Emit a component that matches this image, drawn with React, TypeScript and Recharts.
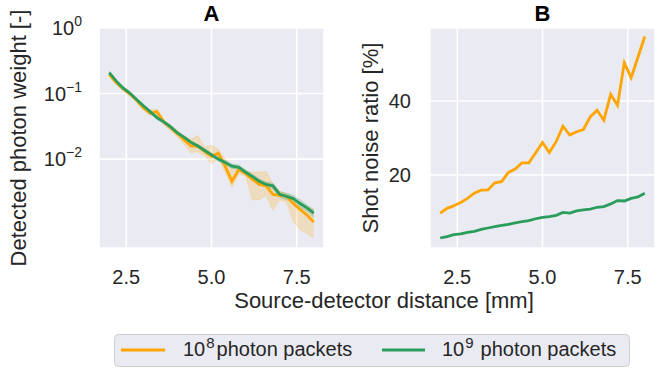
import React from 'react';
import { ComposedChart, Line, Area, XAxis, YAxis, CartesianGrid } from 'recharts';

const distances = [2.0, 2.2, 2.4, 2.6, 2.8, 3.0, 3.2, 3.4, 3.6, 3.8, 4.0, 4.2, 4.4, 4.6, 4.8, 5.0, 5.2, 5.4, 5.6, 5.8, 6.0, 6.2, 6.4, 6.6, 6.8, 7.0, 7.2, 7.4, 7.6, 7.8, 8.0];

// Panel A: detected photon weight
const weight1e8 = [0.196, 0.147, 0.119, 0.099, 0.079, 0.061, 0.050, 0.053, 0.037, 0.030, 0.0245, 0.0195, 0.0158, 0.0158, 0.013, 0.011, 0.0123, 0.0078, 0.0046, 0.0069, 0.006, 0.0049, 0.0041, 0.0039, 0.0029, 0.0028, 0.0027, 0.0021, 0.0017, 0.0014, 0.0011];
const weight1e8Lo = [0.186, 0.141, 0.112, 0.093, 0.074, 0.056, 0.047, 0.048, 0.033, 0.027, 0.0219, 0.0166, 0.0126, 0.0129, 0.0112, 0.0085, 0.0105, 0.0063, 0.0037, 0.006, 0.0055, 0.0024, 0.0024, 0.0028, 0.00166, 0.0024, 0.0022, 0.00112, 0.00083, 0.00074, 0.00063];
const weight1e8Hi = [0.204, 0.155, 0.126, 0.107, 0.085, 0.068, 0.056, 0.058, 0.040, 0.033, 0.0275, 0.0224, 0.020, 0.0229, 0.0151, 0.0162, 0.0141, 0.0100, 0.0078, 0.0076, 0.0066, 0.0063, 0.0063, 0.0065, 0.0042, 0.0032, 0.0030, 0.0026, 0.0022, 0.0019, 0.0017];
const weight1e9 = [0.209, 0.156, 0.122, 0.102, 0.081, 0.065, 0.053, 0.043, 0.037, 0.031, 0.025, 0.0214, 0.018, 0.0158, 0.0135, 0.0116, 0.0100, 0.0089, 0.0078, 0.0075, 0.0063, 0.0054, 0.0046, 0.0041, 0.0039, 0.0029, 0.0027, 0.0025, 0.0021, 0.0018, 0.0015];
const weight1e9Lo = [0.197, 0.147, 0.115, 0.096, 0.076, 0.061, 0.05, 0.04, 0.035, 0.029, 0.0235, 0.0201, 0.0169, 0.0148, 0.0126, 0.0108, 0.0093, 0.0082, 0.0072, 0.0069, 0.0058, 0.0049, 0.0042, 0.0037, 0.0035, 0.0026, 0.0024, 0.0022, 0.0018, 0.0016, 0.0013];
const weight1e9Hi = [0.221, 0.165, 0.129, 0.108, 0.086, 0.069, 0.056, 0.046, 0.039, 0.033, 0.0265, 0.0227, 0.0191, 0.0168, 0.0144, 0.0124, 0.0107, 0.0096, 0.0084, 0.0081, 0.0068, 0.0059, 0.005, 0.0045, 0.0043, 0.0032, 0.003, 0.0028, 0.0024, 0.002, 0.0017];

// Panel B: shot noise ratio [%]
const noise1e8 = [9.7, 11.0, 11.7, 12.6, 13.7, 15.1, 15.9, 16.0, 17.9, 18.2, 20.7, 21.6, 23.3, 23.3, 26.0, 28.8, 26.1, 29.0, 33.2, 30.8, 31.7, 32.3, 35.7, 37.5, 34.8, 41.8, 38.8, 50.3, 46.3, 51.8, 57.4];
const noise1e9 = [3.0, 3.4, 3.9, 4.1, 4.5, 4.8, 5.3, 5.7, 6.1, 6.4, 6.7, 7.1, 7.4, 7.7, 8.2, 8.6, 8.8, 9.1, 9.9, 9.7, 10.3, 10.6, 10.8, 11.3, 11.5, 12.2, 13.1, 13.0, 13.7, 14.1, 15.1];

const xTicks = [2.5, 5.0, 7.5];
const yTicksA = [1, 0.1, 0.01];
const yTicksB = [20, 40];

const seriesNames = ['photon packets', 'photon packets'];
const seriesExp = ['8', '9'];

const ORANGE = '#FFA500';
const GREEN = '#2a9d5c';
const BG = '#EAEAF2';
const TXT = '#262626';
const FONT = '"Liberation Sans", Arial, sans-serif';

const dataA = distances.map((d, i) => ({
  d,
  o: weight1e8[i],
  oBand: [weight1e8Lo[i], weight1e8Hi[i]],
  g: weight1e9[i],
  gBand: [weight1e9Lo[i], weight1e9Hi[i]],
}));
const dataB = distances.map((d, i) => ({ d, o: noise1e8[i], g: noise1e9[i] }));

const LogTick = (props: any) => {
  const { x, y, payload } = props;
  const exp = Math.round(Math.log10(payload.value));
  const sup = exp < 0 ? `\u2212${-exp}` : `${exp}`;
  return (
    <text x={x} y={y} textAnchor="end" fill={TXT} fontSize={20} fontFamily={FONT}>
      <tspan dy="0.355em">10</tspan>
      <tspan dy={-9} fontSize={14}>{sup}</tspan>
    </text>
  );
};

const fmt = (v: number) => v.toFixed(1);

export default function App() {
  return (
    <div style={{ position: 'absolute', left: 0, top: 0, width: 668, height: 369, background: '#fff', fontFamily: FONT, overflow: 'hidden' }}>
      <div style={{ position: 'absolute', left: 0, top: 0 }}>
        <ComposedChart width={330} height={300} data={dataA} margin={{ top: 28, right: 6, bottom: 0, left: 0 }}>
          <CartesianGrid fill={BG} stroke="#fff" strokeWidth={1.6} />
          <XAxis dataKey="d" type="number" domain={[1.7, 8.3]} ticks={xTicks} tickFormatter={fmt} allowDataOverflow
            axisLine={false} tickLine={false} tickSize={0} tickMargin={22} height={52}
            tick={{ fontSize: 20, fill: TXT, fontFamily: FONT }} />
          <YAxis type="number" scale="log" domain={[0.00044, 1]} ticks={yTicksA} allowDataOverflow
            axisLine={false} tickLine={false} tickSize={0} tickMargin={17} width={99} tick={<LogTick />} />
          <Area dataKey="oBand" type="linear" fill={ORANGE} fillOpacity={0.2} stroke={ORANGE} strokeOpacity={0.2} strokeWidth={1} isAnimationActive={false} />
          <Area dataKey="gBand" type="linear" fill={GREEN} fillOpacity={0.2} stroke={GREEN} strokeOpacity={0.2} strokeWidth={1} isAnimationActive={false} />
          <Line dataKey="o" type="linear" stroke={ORANGE} strokeWidth={2.8} dot={false} isAnimationActive={false} />
          <Line dataKey="g" type="linear" stroke={GREEN} strokeWidth={2.8} dot={false} isAnimationActive={false} />
        </ComposedChart>
      </div>
      <div style={{ position: 'absolute', left: 330, top: 0 }}>
        <ComposedChart width={330} height={300} data={dataB} margin={{ top: 28, right: 5, bottom: 0, left: 0 }}>
          <CartesianGrid fill={BG} stroke="#fff" strokeWidth={1.6} />
          <XAxis dataKey="d" type="number" domain={[1.7, 8.3]} ticks={xTicks} tickFormatter={fmt} allowDataOverflow
            axisLine={false} tickLine={false} tickSize={0} tickMargin={22} height={52}
            tick={{ fontSize: 20, fill: TXT, fontFamily: FONT }} />
          <YAxis type="number" domain={[0.3, 59.7]} ticks={yTicksB} allowDataOverflow
            axisLine={false} tickLine={false} tickSize={0} tickMargin={19} width={100}
            tick={{ fontSize: 20, fill: TXT, fontFamily: FONT }} />
          <Line dataKey="o" type="linear" stroke={ORANGE} strokeWidth={2.8} dot={false} isAnimationActive={false} />
          <Line dataKey="g" type="linear" stroke={GREEN} strokeWidth={2.8} dot={false} isAnimationActive={false} />
        </ComposedChart>
      </div>
      <svg width={668} height={369} style={{ position: 'absolute', left: 0, top: 0, pointerEvents: 'none' }} fontFamily={FONT}>
        <text x={211.5} y={21} textAnchor="middle" fontSize={22} fontWeight="bold" fill="#000">A</text>
        <text x={542.5} y={21} textAnchor="middle" fontSize={22} fontWeight="bold" fill="#000">B</text>
        <text x={384} y={308} textAnchor="middle" fontSize={22} fill={TXT}>Source-detector distance [mm]</text>
        <text transform="translate(26,138) rotate(-90)" textAnchor="middle" fontSize={22} fill={TXT}>Detected photon weight [-]</text>
        <text transform="translate(378,138) rotate(-90)" textAnchor="middle" fontSize={22} fill={TXT}>Shot noise ratio [%]</text>
        <rect x={114.5} y={334.5} width={515} height={32} rx={4} fill={BG} stroke="#cfcfcf" strokeWidth={1} />
        <line x1={121} x2={165} y1={350} y2={350} stroke={ORANGE} strokeWidth={2.8} />
        <text x={183} y={356} fontSize={20} fill={TXT}>
          <tspan>10</tspan><tspan dy={-8} dx={1} fontSize={15}>{seriesExp[0]}</tspan><tspan dy={8} dx={2}>{seriesNames[0]}</tspan>
        </text>
        <line x1={382} x2={425} y1={350} y2={350} stroke={GREEN} strokeWidth={2.8} />
        <text x={442} y={356} fontSize={20} fill={TXT}>
          <tspan>10</tspan><tspan dy={-8} dx={1} fontSize={15}>{seriesExp[1]}</tspan><tspan dy={8} dx={7}>{seriesNames[1]}</tspan>
        </text>
      </svg>
    </div>
  );
}
